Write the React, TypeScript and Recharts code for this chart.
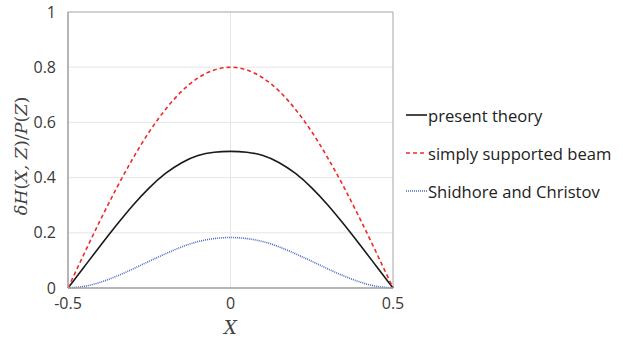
import { LineChart, Line, XAxis, YAxis, CartesianGrid, ReferenceLine } from "recharts";

const xValues = [-0.5, -0.45, -0.4, -0.35, -0.3, -0.25, -0.2, -0.15, -0.1, -0.05, 0, 0.05, 0.1, 0.15, 0.2, 0.25, 0.3, 0.35, 0.4, 0.45, 0.5];
const presentTheory = [0, 0.077, 0.154, 0.229, 0.3, 0.363, 0.415, 0.454, 0.48, 0.492, 0.495, 0.492, 0.48, 0.454, 0.415, 0.363, 0.3, 0.229, 0.154, 0.077, 0];
const simplySupported = [0, 0.125, 0.247, 0.363, 0.47, 0.566, 0.647, 0.713, 0.761, 0.79, 0.8, 0.79, 0.761, 0.713, 0.647, 0.566, 0.47, 0.363, 0.247, 0.125, 0];
const shidhore = [0, 0.006, 0.021, 0.043, 0.069, 0.097, 0.124, 0.149, 0.168, 0.179, 0.183, 0.179, 0.168, 0.149, 0.124, 0.097, 0.069, 0.043, 0.021, 0.006, 0];
const xTicks = [-0.5, 0, 0.5];
const yTicks = [0, 0.2, 0.4, 0.6, 0.8, 1];
const seriesNames = ["present theory", "simply supported beam", "Shidhore and Christov"];

const data = xValues.map((x, i) => ({
  x,
  present: presentTheory[i],
  simply: simplySupported[i],
  shidhore: shidhore[i],
}));

const tickFont = { fontFamily: "Open Sans", fontSize: 16, fill: "#3a3a3a" };
const mathFont = "DejaVu Serif";

const styles = [
  { color: "#1a1a1a", dash: undefined as string | undefined },
  { color: "#ee2a2a", dash: "4 3" },
  { color: "#4a6cc4", dash: "1 1" },
];

function LegendBox() {
  return (
    <div style={{ position: "absolute", left: 406, top: 96, fontFamily: "Open Sans", fontSize: 16.6, color: "#222" }}>
      {seriesNames.map((name, i) => (
        <div key={name} style={{ display: "flex", alignItems: "center", height: 38 }}>
          <svg width={22} height={10}>
            <line x1={0} y1={5} x2={21} y2={5} stroke={styles[i].color} strokeWidth={1.6} strokeDasharray={styles[i].dash} />
          </svg>
          <span>{name}</span>
        </div>
      ))}
    </div>
  );
}

export default function App() {
  return (
    <div style={{ position: "relative", width: 623, height: 341, background: "#fff" }}>
      <style>{`body{margin:0}`}</style>
      <LineChart width={623} height={341} data={data} margin={{ top: 12, right: 230, bottom: 0, left: 0 }}>
        <CartesianGrid stroke="#e6e6e6" strokeWidth={1} />
        <XAxis
          dataKey="x"
          type="number"
          domain={[-0.5, 0.5]}
          ticks={xTicks}
          tickFormatter={(v) => String(v)}
          height={53}
          stroke="#a0a0a0"
          strokeWidth={1.5}
          tickLine={false}
          tick={tickFont}
          tickMargin={4}
          label={(props: any) => {
            const vb = props.viewBox;
            return (
              <text x={vb.x + vb.width / 2} y={vb.y + 46} textAnchor="middle" fontFamily={mathFont} fontStyle="italic" fontSize={18} fill="#444">
                X
              </text>
            );
          }}
        />
        <YAxis
          type="number"
          domain={[0, 1]}
          ticks={yTicks}
          tickFormatter={(v) => String(v)}
          width={68}
          stroke="#a0a0a0"
          strokeWidth={1.5}
          tickLine={false}
          tick={tickFont}
          tickMargin={6}
          label={(props: any) => {
            const vb = props.viewBox;
            const cx = 27;
            const cy = vb.y + vb.height / 2 + 6;
            return (
              <text x={cx} y={cy} textAnchor="middle" transform={`rotate(-90 ${cx} ${cy})`} fontFamily={mathFont} fontSize={17.5} fill="#444">
                <tspan fontStyle="italic">δH</tspan>
                <tspan>(</tspan>
                <tspan fontStyle="italic">X, Z</tspan>
                <tspan>)/</tspan>
                <tspan fontStyle="italic">P</tspan>
                <tspan>(</tspan>
                <tspan fontStyle="italic">Z</tspan>
                <tspan>)</tspan>
              </text>
            );
          }}
        />
        <ReferenceLine y={1} stroke="#b0b0b0" strokeWidth={1} />
        <ReferenceLine x={0.5} stroke="#b0b0b0" strokeWidth={1} />
        <Line type="natural" dataKey="present" stroke={styles[0].color} strokeWidth={1.6} dot={false} isAnimationActive={false} />
        <Line type="natural" dataKey="simply" stroke={styles[1].color} strokeWidth={1.6} strokeDasharray={styles[1].dash} dot={false} isAnimationActive={false} />
        <Line type="natural" dataKey="shidhore" stroke={styles[2].color} strokeWidth={1.6} strokeDasharray={styles[2].dash} dot={false} isAnimationActive={false} />
      </LineChart>
      <LegendBox />
    </div>
  );
}
